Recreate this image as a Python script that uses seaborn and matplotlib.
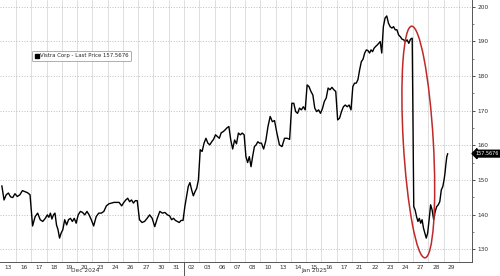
import matplotlib
matplotlib.use("Agg")
import matplotlib.pyplot as plt
import matplotlib.transforms as mtransforms
from matplotlib.patches import Ellipse
from matplotlib.lines import Line2D
import numpy as np
import pandas as pd
import seaborn as sns

# ---- data ----
day_labels = ["13", "16", "17", "18", "19", "20", "23", "24", "26", "27", "30", "31",
              "02", "03", "06", "07", "08", "10", "13", "14", "15", "16", "17", "21",
              "22", "23", "24", "27", "28", "29"]
month_labels = ["Dec 2024", "Jan 2025"]
month_anchor_index = [5, 20]      # label sits under "20" (Dec) and "15" (Jan)
month_break_index = 11.5          # boundary between Dec 31 and Jan 02

dec13 = [148.3, 144.2, 145.7, 146.2, 145.1, 144.9, 146.0]
dec16 = [145.2, 145.7, 146.9, 146.6, 146.3, 145.7]
dec17 = [136.7, 139.4, 140.4, 138.5, 138.0, 138.9]
dec18 = [139.9, 139.2, 140.4, 138.7, 139.9, 140.4, 137.0, 135.6, 133.2, 134.6]
dec19 = [135.6, 138.5, 137.0, 138.5, 138.9, 138.0, 138.9, 137.5]
dec20 = [139.9, 140.9, 140.6, 139.9, 140.9, 139.9, 138.5]
dec23 = [136.7, 139.4, 140.4, 140.4, 140.9, 142.5]
dec24 = [143.1, 143.3, 143.5, 143.5, 143.5, 142.5]
dec26 = [143.5, 144.2, 144.7, 143.7, 144.2, 143.3, 144.0, 144.0]
dec27 = [138.5, 137.7, 138.0, 138.9, 139.9, 138.9]
dec30 = [136.5, 138.9, 140.9, 140.4, 140.6, 139.9]
dec31 = [139.6, 138.5, 138.9, 138.3, 138.0, 137.7, 138.3, 138.3]
jan02 = [142.3, 145.2, 148.1, 149.2, 147.1, 145.4, 146.6, 147.6, 150.0]
jan03 = [158.7, 158.2, 160.6, 162.0, 160.6, 160.1, 161.0, 161.7]
jan06 = [163.0, 162.5, 162.0, 163.6, 163.9, 164.4, 165.0, 165.4]
jan07 = [161.5, 158.9, 161.5, 160.4, 163.5, 163.0, 163.5, 163.0]
jan08 = [156.7, 155.0, 156.7, 153.8, 156.9, 159.6, 160.1, 161.0, 160.6]
jan10 = [160.6, 158.9, 161.3, 165.4, 168.3, 166.8, 167.1]
jan13 = [163.5, 160.1, 159.6, 162.0, 162.0, 161.7]
jan14 = [172.1, 172.1, 169.7, 169.2, 170.7, 170.2, 171.1, 170.2]
jan15 = [177.4, 176.9, 175.5, 174.5, 170.7, 169.7, 170.2, 169.2]
jan16 = [170.5, 172.6, 173.6, 176.5, 176.0, 176.7, 176.0, 175.5]
jan17 = [167.3, 167.8, 169.7, 171.1, 171.6, 171.1, 171.6, 170.2]
jan21 = [176.9, 177.9, 177.9, 178.9, 181.7, 184.1, 184.8, 186.6, 187.5]
jan22 = [187.3, 186.6, 187.5, 187.0, 188.0, 188.5, 188.9, 189.4, 189.9, 186.6]
jan23 = [194.2, 196.7, 197.3, 195.2, 194.2, 193.8, 194.2, 193.3, 193.3]
jan24 = [191.8, 191.3, 190.6, 190.4, 189.9, 190.4, 189.4, 190.6, 190.9]
jan27 = [142.3, 141.3, 139.4, 138.0, 138.9, 137.5, 138.5, 136.1, 134.6, 133.2, 134.6]
jan28 = [138.4, 142.8, 141.3, 138.5, 140.9, 142.3, 142.8, 143.7, 147.1, 148.1]
jan29 = [150.0, 151.9, 154.5, 156.7, 157.5676]
last_session_fraction = 0.3      # Jan 29 session only partly elapsed

last_price = 157.5676
series_name = "Vistra Corp - Last Price"

y_ticks = [130, 140, 150, 160, 170, 180, 190, 200]

day_prices = [dec13, dec16, dec17, dec18, dec19, dec20, dec23, dec24, dec26, dec27,
              dec30, dec31, jan02, jan03, jan06, jan07, jan08, jan10, jan13, jan14,
              jan15, jan16, jan17, jan21, jan22, jan23, jan24, jan27, jan28, jan29]

# ---- build intraday table: each session fills its own day slot ----
xs, ps = [], []
for k, prices in enumerate(day_prices):
    n = len(prices)
    frac = last_session_fraction if k == len(day_prices) - 1 else 1.0
    for j, p in enumerate(prices):
        xs.append(k - 0.5 + frac * (j + 0.5) / n)
        ps.append(p)
df = pd.DataFrame({"t": xs, "price": ps})

# ---- figure ----
sns.set_theme(style="white")
plt.rcParams["font.family"] = ["DejaVu Sans"]

fig = plt.figure(figsize=(5.0, 2.76), dpi=100)
ax = fig.add_axes([0.0, 14 / 276, 472 / 500, 262 / 276])

sns.lineplot(data=df, x="t", y="price", ax=ax, color="black", linewidth=1.0,
             estimator=None, sort=False, legend=False)

ax.set_xlim(-0.55, 30.36)
ax.set_ylim(126.3, 201.9)
ax.set_xlabel("")
ax.set_ylabel("")

# spines
for s in ["top", "left"]:
    ax.spines[s].set_visible(False)
for s in ["bottom", "right"]:
    ax.spines[s].set_visible(True)
    ax.spines[s].set_color("#555555")
    ax.spines[s].set_linewidth(0.7)

# x axis: labels at day centres, grid at day boundaries
ax.set_xticks(range(len(day_labels)))
ax.set_xticklabels(day_labels, fontsize=4.2, color="#333333")
ax.set_xticks([k + 0.5 for k in range(len(day_labels))], minor=True)
ax.tick_params(axis="x", which="major", length=0, pad=2)
ax.tick_params(axis="x", which="minor", length=0)
ax.grid(True, axis="x", which="minor", color="#d9d9d9", linewidth=0.6, linestyle="-")
ax.grid(False, axis="x", which="major")

# y axis on right
ax.yaxis.tick_right()
ax.set_yticks(y_ticks)
ax.set_yticklabels([str(v) for v in y_ticks], fontsize=4.2, color="#333333")
ax.set_yticks([v + 5 for v in y_ticks[:-1]], minor=True)
ax.tick_params(axis="y", which="major", length=2.2, width=0.6, color="#333333", pad=1.5,
               right=True, left=False)
ax.tick_params(axis="y", which="minor", length=1.2, width=0.5, color="#555555",
               right=True, left=False)
ax.grid(True, axis="y", which="major", color="#a8a8a8", linewidth=0.6,
        linestyle=(0, (1, 2.2)))

# month separator & month labels
trans = mtransforms.blended_transform_factory(ax.transData, ax.transAxes)
ax.plot([month_break_index, month_break_index], [0, -0.06], transform=trans,
        color="#555555", lw=0.7, clip_on=False)
for lab, idx in zip(month_labels, month_anchor_index):
    ax.text(idx, -0.034, lab, transform=trans, ha="center", va="center",
            fontsize=4.2, color="#333333")

# legend
handle = Line2D([], [], marker="s", color="black", linestyle="None", markersize=3)
leg = ax.legend([handle], [f"{series_name} {last_price:.4f}"], loc="upper left",
                bbox_to_anchor=(32 / 472, 1 - 51 / 262), fontsize=3.9, frameon=True,
                handletextpad=0.3, borderpad=0.45, handlelength=0.8, fancybox=True,
                borderaxespad=0)
leg.get_frame().set_edgecolor("#8a8a8a")
leg.get_frame().set_linewidth(0.6)

# last price tag
ax.annotate(f"{last_price:.4f}", xy=(1.0, last_price),
            xycoords=("axes fraction", "data"), xytext=(2.6, 0),
            textcoords="offset points", ha="left", va="center", fontsize=3.5,
            color="white", annotation_clip=False,
            bbox=dict(boxstyle="larrow,pad=0.18", fc="black", ec="black"))

# red highlight ellipse (drawn in pixel space)
ell = Ellipse((418.3, 276 - 142), width=30, height=232, angle=3.3,
              transform=mtransforms.IdentityTransform(), fill=False,
              edgecolor="#c0282a", linewidth=1.1)
fig.add_artist(ell)

fig.savefig("out.png", dpi=100, facecolor="white")
